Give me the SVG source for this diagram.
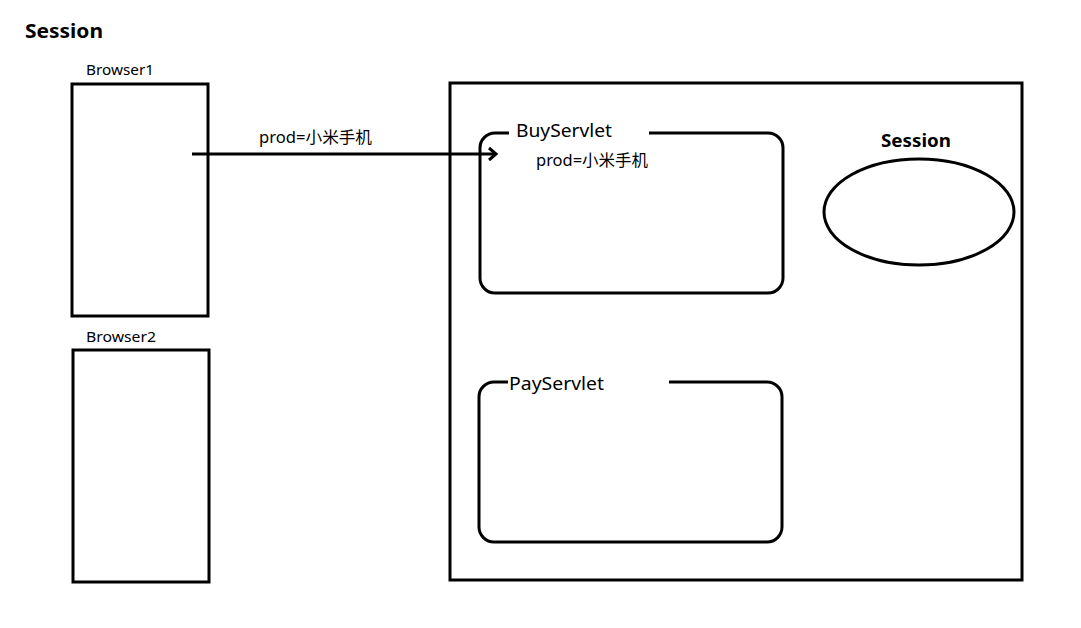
<svg xmlns="http://www.w3.org/2000/svg" width="1081" height="628" viewBox="0 0 1081 628">
<style>
.s{fill:none;stroke:#000;stroke-width:3}
.t{font-family:"Noto Sans","Noto Sans CJK SC",sans-serif;fill:#000}
.b{font-weight:bold}
</style>
<defs>
<marker id="arr" markerUnits="userSpaceOnUse" markerWidth="14" markerHeight="16" refX="11" refY="8" orient="auto">
<path d="M4,2 L11,8 L4,14" fill="none" stroke="#000" stroke-width="3"/>
</marker>
</defs>
<rect width="1081" height="628" fill="#fff"/>
<text class="t b" x="25" y="38" font-size="20" textLength="78" lengthAdjust="spacingAndGlyphs">Session</text>
<g id="browser1">
<rect class="s" x="72" y="84" width="136" height="232"/>
<text class="t" x="86" y="75" font-size="15" textLength="68" lengthAdjust="spacingAndGlyphs">Browser1</text>
</g>
<g id="browser2">
<rect class="s" x="73" y="350" width="136" height="232"/>
<text class="t" x="86" y="342" font-size="15" textLength="70" lengthAdjust="spacingAndGlyphs">Browser2</text>
</g>
<g id="server">
<rect class="s" x="450" y="83" width="572" height="497"/>
</g>
<g id="buyservlet">
<path class="s" d="M509,133 H495 A15,15 0 0 0 480,148 V278 A15,15 0 0 0 495,293 H768 A15,15 0 0 0 783,278 V148 A15,15 0 0 0 768,133 H649"/>
<text class="t" x="516" y="137" font-size="18" textLength="96" lengthAdjust="spacingAndGlyphs">BuyServlet</text>
<text class="t" x="536" y="166" font-size="16" textLength="112" lengthAdjust="spacingAndGlyphs">prod=小米手机</text>
</g>
<g id="payservlet">
<path class="s" d="M508,382 H494 A15,15 0 0 0 479,397 V527 A15,15 0 0 0 494,542 H767 A15,15 0 0 0 782,527 V397 A15,15 0 0 0 767,382 H669"/>
<text class="t" x="509" y="390" font-size="18" textLength="95" lengthAdjust="spacingAndGlyphs">PayServlet</text>
</g>
<g id="session">
<ellipse class="s" cx="919" cy="212" rx="95" ry="53" stroke-width="2.5"/>
<text class="t b" x="881" y="147" font-size="18" textLength="70" lengthAdjust="spacingAndGlyphs">Session</text>
</g>
<g id="connectors">
<line class="s" x1="192" y1="154" x2="496" y2="154" marker-end="url(#arr)"/>
<text class="t" x="259" y="143" font-size="16" textLength="113" lengthAdjust="spacingAndGlyphs">prod=小米手机</text>
</g>
</svg>
